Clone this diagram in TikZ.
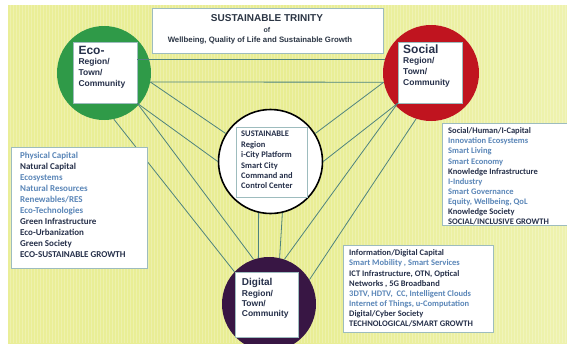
\documentclass[tikz,border=0pt]{standalone}
\usepackage{fontspec}
\setmainfont{Carlito}
\newfontfamily\headfont{Liberation Sans}
\usetikzlibrary{calc}

\definecolor{bgleft}{HTML}{EAEE98}
\definecolor{bgmid}{HTML}{E8ED92}
\definecolor{bgright}{HTML}{EEF2AE}
\definecolor{ecogreen}{HTML}{2F9A48}
\definecolor{socred}{HTML}{C0141F}
\definecolor{digpurple}{HTML}{381644}
\definecolor{linkcol}{HTML}{4E837E}
\definecolor{framecol}{HTML}{9DBCBE}
\definecolor{darktxt}{HTML}{26304A}
\definecolor{lighttxt}{HTML}{5A86B8}
\definecolor{titletxt}{HTML}{2C3645}

\tikzset{
  hub/.style={circle, inner sep=0pt, minimum size=#1},
  labelsq/.style={draw=framecol, line width=0.6pt, fill=white, inner sep=0pt},
  infobox/.style={draw=framecol, line width=0.8pt, fill=white},
  link/.style={draw=linkcol, line width=0.8pt},
  hubtext/.style={anchor=north west, align=left, inner sep=0pt, text=darktxt,
    font=\headfont\bfseries\fontsize{8.5}{10.8}\selectfont},
  listtext/.style={anchor=north west, align=left, inner sep=0pt, text=darktxt},
  stripe/.style={draw=white, opacity=0.22, line width=0.8pt}
}

\newcommand{\dk}[1]{\textcolor{darktxt}{#1}}
\newcommand{\lt}[1]{\textcolor{lighttxt}{#1}}

\begin{document}
\begin{tikzpicture}[x=1pt, y=-1pt]
\useasboundingbox (0,0) rectangle (567,343);

% backdrop
\fill[white] (0,0) rectangle (567,343);
\shade[left color=bgleft, right color=bgright, middle color=bgmid] (8,5) rectangle (567,343);
\foreach \sx in {10,13,...,565} \draw[stripe] (\sx,5) -- (\sx,343);

% hubs
\node[hub=94pt, fill=ecogreen] (G) at (104,73) {};
\node[hub=96pt, fill=socred] (R) at (431,73) {};
\node[hub=94pt, fill=digpurple] (D) at (269,304) {};

% connectors
\draw[link] (G.-11) -- (R.191);
\draw[link] (G.-78) -- (D.137);
\draw[link] (R.-108) -- (D.31);

% hub label squares
\node[labelsq, minimum width=64pt, minimum height=61pt] (Gsq) at (105,72.5) {};
\node[labelsq, minimum width=64pt, minimum height=61pt] (Rsq) at (430,72.5) {};
\node[labelsq, minimum width=63pt, minimum height=65pt] (Dsq) at (266.5,304.5) {};

\draw[link] (Gsq.east |- R.163) -- (R.163);
\draw[link] (Gsq.south east) -- (D.109);
\draw[link] (Rsq.south west) -- (D.71);

% centre hub
\node[hub=104pt, fill=white, draw=black, line width=1.6pt] (C) at (270.5,161.5) {};
\draw[link] (G.-11) -- (C.148);
\draw[link] (Gsq.south east) -- (C.180);
\draw[link] (R.191) -- (C.32);
\draw[link] (Rsq.south west) -- (C.0);
\draw[link] (C.-103) -- (D.103);
\draw[link] (C.-77) -- (D.77);
\node[draw=framecol, line width=0.5pt, inner sep=0pt, minimum width=71pt, minimum height=70pt] (Csq) at (271.5,162) {};

% hub labels
\node[hubtext] (Gtxt) at (78.3,45.7) {{\fontsize{12}{12}\selectfont Eco-}\\Region/\\Town/\\Community};
\node[hubtext] (Rtxt) at (403,44.3) {{\fontsize{12}{12}\selectfont Social}\\Region/\\Town/\\Community};
\node[hubtext, font=\headfont\bfseries\fontsize{8.5}{10.4}\selectfont] (Dtxt) at (241.7,278.3)
  {{\fontsize{10}{10}\selectfont Digital}\\Region/\\Town/\\Community};
\node[listtext, font=\bfseries\fontsize{8.5}{10.4}\selectfont] (Ctxt) at (241,131.2)
  {SUSTAINABLE\\Region\\i-City Platform\\Smart City\\Command and\\Control Center};

% title
\node[infobox, minimum width=231pt, minimum height=45pt, line width=1pt] (title) at (267.5,30.5) {};
\node[text=titletxt, inner sep=0pt, font=\headfont\bfseries\fontsize{10}{10}\selectfont] (t1) at (267,18) {SUSTAINABLE TRINITY};
\node[text=titletxt, inner sep=0pt, font=\headfont\bfseries\fontsize{7}{7}\selectfont] (t2) at (267,30) {of};
\node[text=titletxt, inner sep=0pt, font=\headfont\bfseries\fontsize{7.8}{8}\selectfont] (t3) at (260,40) {Wellbeing, Quality of Life and Sustainable Growth};

% capital lists
\node[infobox, anchor=north west, minimum width=136pt, minimum height=121pt] (ecobox) at (11,147) {};
\node[listtext, font=\bfseries\fontsize{9}{10.9}\selectfont] (ecolist) at (20,152.4)
  {\lt{Physical Capital}\\\dk{Natural Capital}\\\lt{Ecosystems}\\\lt{Natural Resources}\\\lt{Renewables/RES}\\\lt{Eco-Technologies}\\\dk{Green Infrastructure}\\\dk{Eco-Urbanization}\\\dk{Green Society}\\\dk{ECO-SUSTAINABLE GROWTH}};

\node[infobox, anchor=north west, minimum width=130pt, minimum height=102pt] (socbox) at (442,123) {};
\node[listtext, font=\bfseries\fontsize{8.5}{10.1}\selectfont] (soclist) at (448,127.6)
  {\dk{Social/Human/I-Capital}\\\lt{Innovation Ecosystems}\\\lt{Smart Living}\\\lt{Smart Economy}\\\dk{Knowledge Infrastructure}\\\lt{I-Industry}\\\lt{Smart Governance}\\\lt{Equity, Wellbeing, QoL}\\\dk{Knowledge Society}\\\dk{SOCIAL/INCLUSIVE GROWTH}};

\node[infobox, anchor=north west, minimum width=150pt, minimum height=87pt] (digbox) at (343,245) {};
\node[listtext, font=\bfseries\fontsize{8.5}{10.15}\selectfont] (diglist) at (349,249.6)
  {\dk{Information/Digital Capital}\\\lt{Smart Mobility , Smart Services}\\\dk{ICT Infrastructure, OTN, Optical}\\\dk{Networks , 5G Broadband}\\\lt{3DTV, HDTV,\ \ CC, Intelligent Clouds}\\\lt{Internet of Things, u-Computation}\\\dk{Digital/Cyber Society}\\\dk{TECHNOLOGICAL/SMART GROWTH}};
\end{tikzpicture}
\end{document}
